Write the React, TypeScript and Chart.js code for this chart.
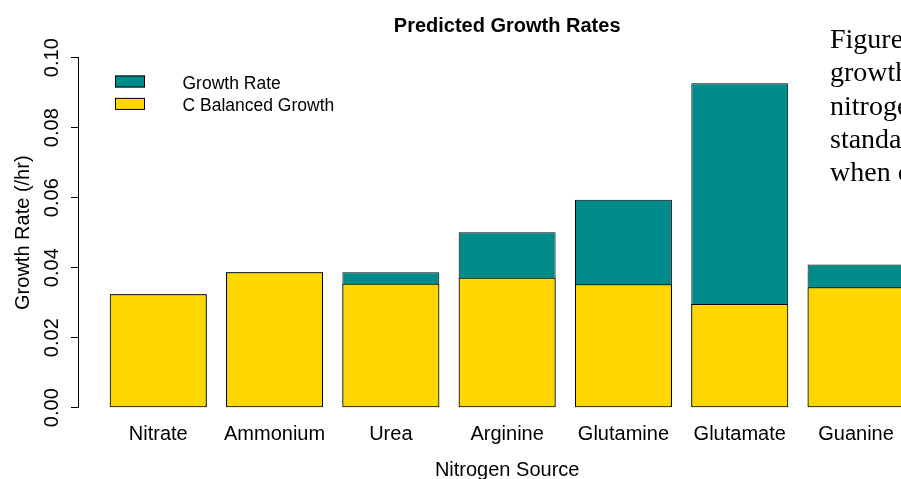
import { useEffect, useRef } from "react";
import { Chart, registerables } from "chart.js";

Chart.register(...registerables);

// Nitrogen sources on the x axis
const categories = ["Nitrate", "Ammonium", "Urea", "Arginine", "Glutamine", "Glutamate", "Guanine"];

// Predicted growth rates (/hr)
const growthRate = [0.0324, 0.0387, 0.0387, 0.0501, 0.0594, 0.0927, 0.0409];
const cBalancedGrowth = [0.0324, 0.0387, 0.0354, 0.0371, 0.0353, 0.0296, 0.0344];

const yTicks = [0, 0.02, 0.04, 0.06, 0.08, 0.1];
const seriesNames = ["Growth Rate", "C Balanced Growth"];
const seriesColors = ["#008B8B", "#FFD700"];

const chartTitle = "Predicted Growth Rates";
const xTitle = "Nitrogen Source";
const yTitle = "Growth Rate (/hr)";
const captionLines = ["Figure 2.", "growth rates on", "nitrogen sources", "standard", "when carbon"];

const SANS = '"Liberation Sans", Arial, Helvetica, sans-serif';
const SERIF = '"Liberation Serif", "Times New Roman", serif';

const annotate = {
  id: "annotate",
  afterDraw(chart: any) {
    const { ctx, chartArea, scales } = chart;
    const y = scales.y;
    const midX = (chartArea.left + chartArea.right) / 2;
    const midY = (chartArea.top + chartArea.bottom) / 2;
    ctx.save();
    ctx.fillStyle = "#000";
    ctx.textBaseline = "alphabetic";

    // main title
    ctx.font = `bold 20px ${SANS}`;
    ctx.textAlign = "center";
    ctx.fillText(chartTitle, midX, 32);

    // x axis title
    ctx.font = `20px ${SANS}`;
    ctx.fillText(xTitle, midX, 476);

    // y tick labels, rotated to read upwards
    for (const v of yTicks) {
      ctx.save();
      ctx.translate(57.5, y.getPixelForValue(v));
      ctx.rotate(-Math.PI / 2);
      ctx.fillText(v.toFixed(2), 0, 0);
      ctx.restore();
    }

    // y axis title
    ctx.save();
    ctx.translate(28.5, midY);
    ctx.rotate(-Math.PI / 2);
    ctx.fillText(yTitle, 0, 0);
    ctx.restore();

    // legend
    ctx.font = `17.5px ${SANS}`;
    ctx.textAlign = "left";
    seriesNames.forEach((name, i) => {
      const top = 75.5 + i * 22.4;
      ctx.fillStyle = seriesColors[i];
      ctx.fillRect(115, top, 30, 12);
      ctx.strokeStyle = "#000";
      ctx.lineWidth = 1;
      ctx.strokeRect(115.5, top + 0.5, 29, 11);
      ctx.fillStyle = "#000";
      ctx.fillText(name, 182.5, top + 13.5);
    });

    // caption text beside the plot
    ctx.font = `28px ${SERIF}`;
    captionLines.forEach((line, i) => {
      ctx.fillText(line, 830, 48 + i * 33.3);
    });

    ctx.restore();
  },
};

export default function App() {
  const canvasRef = useRef<HTMLCanvasElement | null>(null);

  useEffect(() => {
    const canvas = canvasRef.current;
    if (!canvas) return;
    Chart.defaults.font.family = SANS;
    const chart = new Chart(canvas, {
      type: "bar",
      data: {
        datasets: [
          {
            label: seriesNames[1],
            data: cBalancedGrowth.map((v, i) => ({ x: i, y: v })),
            backgroundColor: seriesColors[1],
            borderColor: "#000",
            borderWidth: 1,
            borderSkipped: false,
            grouped: false,
            order: 1,
            barPercentage: 1 / 1.2,
            categoryPercentage: 1,
          },
          {
            label: seriesNames[0],
            data: growthRate.map((v, i) => ({ x: i, y: v })),
            backgroundColor: seriesColors[0],
            borderColor: "#000",
            borderWidth: 1,
            borderSkipped: false,
            grouped: false,
            order: 2,
            barPercentage: 1 / 1.2,
            categoryPercentage: 1,
          },
        ] as any,
      },
      options: {
        responsive: false,
        animation: false,
        devicePixelRatio: 1,
        layout: { padding: { top: 57.7, right: 3.7, bottom: 0, left: 0 } },
        plugins: {
          legend: { display: false },
          tooltip: { enabled: false },
          title: { display: false },
        },
        scales: {
          x: {
            type: "linear",
            min: -0.69,
            max: 6.69,
            offset: false,
            grid: { display: false, offset: false },
            border: { display: false },
            afterBuildTicks: (scale: any) => {
              scale.ticks = categories.map((_, i) => ({ value: i }));
            },
            afterFit: (scale: any) => {
              scale.height = 71.3;
            },
            ticks: {
              autoSkip: false,
              maxRotation: 0,
              minRotation: 0,
              padding: 7,
              color: "#000",
              font: { size: 20, family: SANS },
              callback: (_v: any, index: number) => categories[index],
            },
          },
          y: {
            type: "linear",
            min: 0,
            max: 0.1,
            grid: {
              display: true,
              drawOnChartArea: false,
              drawTicks: true,
              tickLength: 7,
              color: "#000",
            },
            border: { display: true, color: "#000", width: 1 },
            afterBuildTicks: (scale: any) => {
              scale.ticks = yTicks.map((v) => ({ value: v }));
            },
            afterFit: (scale: any) => {
              scale.width = 78;
            },
            ticks: { display: false },
          },
        },
      },
      plugins: [annotate],
    });
    return () => chart.destroy();
  }, []);

  return (
    <div
      style={{
        position: "fixed",
        left: 0,
        top: 0,
        width: 901,
        height: 479,
        overflow: "hidden",
        background: "#fff",
      }}
    >
      <canvas ref={canvasRef} width={940} height={479} style={{ display: "block", width: 940, height: 479 }} />
    </div>
  );
}
